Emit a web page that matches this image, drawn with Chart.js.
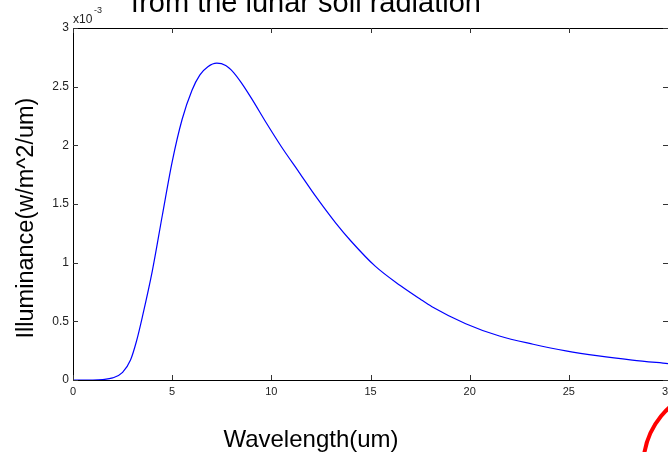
<!DOCTYPE html>
<html>
<head>
<meta charset="utf-8">
<script src="https://cdn.jsdelivr.net/npm/chart.js@4.4.1/dist/chart.umd.min.js"></script>
<style>
  html, body { margin: 0; padding: 0; background: #fff; overflow: hidden; }
  canvas { display: block; }
</style>
</head>
<body>
<canvas id="grafico" width="680" height="452"></canvas>
<script>
// datos (iluminancia en unidades de 10^-3)
const wavelength = [0, 1, 1.5, 2, 2.5, 2.9, 3.2, 3.5, 4, 4.5, 5, 5.5, 6, 6.4, 6.8, 7.25, 7.7, 8.1, 8.5, 9,
  9.75, 10.5, 11.4, 12.25, 13.25, 14, 15.25, 16.5, 17.5, 18.1, 19.8, 21.5, 23.2, 24.85, 26.5, 28.2, 30];
const illuminance = [0, 0, 0.004, 0.018, 0.065, 0.17, 0.33, 0.54, 0.93, 1.40, 1.86, 2.22, 2.47, 2.60, 2.67, 2.70, 2.68, 2.62, 2.53, 2.40,
  2.19, 1.99, 1.77, 1.562, 1.337, 1.187, 0.968, 0.805, 0.69, 0.625, 0.48, 0.375, 0.305, 0.248, 0.205, 0.17, 0.14];
const xTicks = [0, 5, 10, 15, 20, 25, 30];
const yTicks = [0, 0.5, 1, 1.5, 2, 2.5, 3];

const tituloGrafico = "from the lunar soil radiation";
const tituloX = "Wavelength(um)";
const tituloY = "Illuminance(w/m^2/um)";

const FUENTE = "Arial, 'Liberation Sans', sans-serif";

// marco, ticks hacia dentro y textos estilo matlab
const marcoPlugin = {
  id: "marco",
  afterDraw(chart) {
    const ctx = chart.ctx;
    const a = chart.chartArea;
    const sx = chart.scales.x, sy = chart.scales.y;
    ctx.save();
    ctx.strokeStyle = "#000";
    ctx.lineWidth = 1;
    ctx.strokeRect(Math.round(a.left) + 0.5, Math.round(a.top) + 0.5,
      Math.round(a.right - a.left), Math.round(a.bottom - a.top));

    ctx.strokeStyle = "#333";
    const tl = 5;
    ctx.beginPath();
    xTicks.forEach(v => {
      const px = Math.round(sx.getPixelForValue(v)) + 0.5;
      ctx.moveTo(px, a.bottom); ctx.lineTo(px, a.bottom - tl);
      ctx.moveTo(px, a.top); ctx.lineTo(px, a.top + tl);
    });
    yTicks.forEach(v => {
      const py = Math.round(sy.getPixelForValue(v)) + 0.5;
      ctx.moveTo(a.left, py); ctx.lineTo(a.left + tl, py);
      ctx.moveTo(a.right, py); ctx.lineTo(a.right - tl, py);
    });
    ctx.stroke();

    // multiplicador x10^-3
    ctx.fillStyle = "#222";
    ctx.textBaseline = "alphabetic";
    ctx.textAlign = "left";
    ctx.font = "12px " + FUENTE;
    ctx.fillText("x10", 73, 23);
    ctx.font = "9px " + FUENTE;
    ctx.fillText("-3", 94, 13);

    // titulos
    ctx.fillStyle = "#000";
    ctx.textAlign = "center";
    ctx.font = "29px " + FUENTE;
    ctx.fillText(tituloGrafico, 306, 12);
    ctx.font = "24px " + FUENTE;
    ctx.fillText(tituloX, 311, 447);
    ctx.save();
    ctx.translate(33, 218);
    ctx.rotate(-Math.PI / 2);
    ctx.font = "23.5px " + FUENTE;
    ctx.fillText(tituloY, 0, 0);
    ctx.restore();

    // circulo rojo de la diapositiva
    ctx.strokeStyle = "#ff0000";
    ctx.lineWidth = 4;
    ctx.beginPath();
    ctx.ellipse(705, 469, 62, 75, 0, 0, Math.PI * 2);
    ctx.stroke();
    ctx.restore();
  }
};

const puntos = wavelength.map((x, i) => ({ x: x, y: illuminance[i] }));

new Chart(document.getElementById("grafico").getContext("2d"), {
  type: "line",
  data: {
    datasets: [{
      data: puntos,
      borderColor: "#0000ff",
      borderWidth: 1.2,
      pointRadius: 0,
      fill: false,
      cubicInterpolationMode: "monotone"
    }]
  },
  options: {
    responsive: false,
    animation: false,
    devicePixelRatio: 1,
    layout: { padding: { top: 28, right: 12, left: 0, bottom: 0 } },
    plugins: { legend: { display: false }, tooltip: { enabled: false } },
    scales: {
      x: {
        type: "linear",
        min: 0, max: 30,
        grid: { display: false, drawTicks: false },
        border: { display: false },
        afterBuildTicks: s => { s.ticks = xTicks.map(v => ({ value: v })); },
        afterFit: s => { s.height = 72; },
        ticks: { color: "#222", padding: 5, maxRotation: 0, font: { family: FUENTE, size: 11 },
          callback: v => String(v) }
      },
      y: {
        min: 0, max: 3,
        grid: { display: false, drawTicks: false },
        border: { display: false },
        afterBuildTicks: s => { s.ticks = yTicks.map(v => ({ value: v })); },
        afterFit: s => { s.width = 73; },
        ticks: { color: "#222", padding: 4, font: { family: FUENTE, size: 12 },
          callback: v => String(v) }
      }
    }
  },
  plugins: [marcoPlugin]
});
</script>
</body>
</html>
